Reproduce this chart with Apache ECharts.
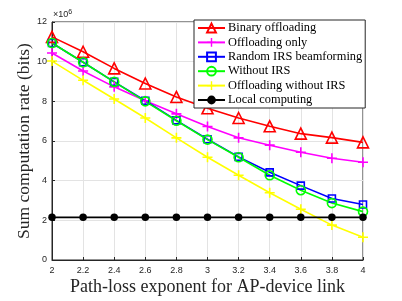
<!DOCTYPE html>
<html><head><meta charset="utf-8">
<script src="https://cdn.jsdelivr.net/npm/echarts@6/dist/echarts.min.js"></script>
<style>html,body{margin:0;padding:0;background:#fff}#c{width:402px;height:301px}</style>
</head><body><div id="c"></div>
<script>
const categories = ['2','2.2','2.4','2.6','2.8','3','3.2','3.4','3.6','3.8','4'];
const yTicks = [0,2,4,6,8,10,12];
const binaryOffloading = [11.25,10.5,9.66,8.9,8.22,7.65,7.16,6.74,6.37,6.17,5.93];
const offloadingOnly = [10.44,9.53,8.73,8.03,7.37,6.73,6.16,5.79,5.43,5.13,4.93];
const randomIRS = [10.94,9.97,8.98,8.03,7.04,6.09,5.2,4.42,3.75,3.1,2.8];
const withoutIRS = [10.94,9.97,8.98,8.0,7.02,6.07,5.18,4.27,3.52,2.87,2.44];
const offloadingWithoutIRS = [10.03,9.06,8.12,7.16,6.16,5.18,4.27,3.39,2.56,1.76,1.15];
const localComputing = [2.15,2.15,2.15,2.15,2.15,2.15,2.15,2.15,2.15,2.15,2.15];
const names = ['Binary offloading','Offloading only','Random IRS beamforming','Without IRS','Offloading without IRS','Local computing'];

const plus = 'path://M4.2,0h1.6v4.2h4.2v1.6h-4.2v4.2h-1.6v-4.2h-4.2v-1.6h4.2z';
function mk(name, data, color, symbol, size, hollow){
  return {
    name, type:'line', data, symbol, symbolSize:size, showSymbol:true,
    lineStyle:{color, width:1.6},
    itemStyle: hollow ? {color:'rgba(255,255,255,0)', borderColor:color, borderWidth:1.6}
                      : {color, borderWidth:0},
    emphasis:{disabled:true}, animation:false, z: 2
  };
}
const series = [
  mk(names[0], binaryOffloading, '#ff0000', 'triangle', 11, true),
  mk(names[1], offloadingOnly, '#ff00ff', plus, 10, false),
  mk(names[2], randomIRS, '#0000ff', 'rect', 7, true),
  mk(names[3], withoutIRS, '#00ff00', 'circle', 9, true),
  mk(names[4], offloadingWithoutIRS, '#ffff00', plus, 10, false),
  mk(names[5], localComputing, '#000000', 'circle', 7.5, false)
];
const chart = echarts.init(document.getElementById('c'), null, {renderer:'canvas'});
chart.setOption({
  animation:false,
  backgroundColor:'#fff',
  grid:{left:52, right:39, top:22, bottom:38, show:true, borderColor:'#262626', borderWidth:1, backgroundColor:'transparent'},
  xAxis:{type:'category', data:categories, boundaryGap:false,
    axisLine:{show:true, lineStyle:{color:'#262626', width:1}},
    axisTick:{show:true, inside:true, length:3, alignWithLabel:true, lineStyle:{color:'#262626'}},
    axisLabel:{color:'#262626', fontSize:9, fontFamily:'Liberation Sans', margin:6},
    splitLine:{show:true, lineStyle:{color:'#e3e3e3', width:1}},
    name:'Path-loss exponent for AP-device link', nameLocation:'middle', nameGap:18, nameMoveOverlap:false,
    nameTextStyle:{fontFamily:'Liberation Serif', fontSize:18, color:'#262626'}
  },
  yAxis:{type:'value', min:0, max:12, interval:2,
    axisLine:{show:true, lineStyle:{color:'#262626', width:1}},
    axisTick:{show:true, inside:true, length:3, lineStyle:{color:'#262626'}},
    axisLabel:{color:'#262626', fontSize:9, fontFamily:'Liberation Sans', margin:5,
      formatter: v => yTicks.includes(v) ? String(v) : ''},
    splitLine:{show:true, lineStyle:{color:'#e3e3e3', width:1}},
    name:'Sum computation rate (bits)', nameLocation:'middle', nameGap:19, nameRotate:90, nameMoveOverlap:false,
    nameTextStyle:{fontFamily:'Liberation Serif', fontSize:17.5, color:'#262626'}
  },
  legend:{show:true, orient:'vertical', left:194, top:20, data:names,
    backgroundColor:'#fff', borderColor:'#262626', borderWidth:1,
    padding:[2,3,2,3], itemGap:2.4, itemWidth:27, itemHeight:11,
    textStyle:{fontFamily:'Liberation Serif', fontSize:12.4, color:'#000', padding:[0,0,0,-2]},
    selectedMode:false},
  graphic:[{type:'text', left:53, top:9, style:{
    text:'{a|×10}{b|6}', rich:{a:{fontSize:9, fontFamily:'Liberation Sans', fill:'#262626'},
      b:{fontSize:7, fontFamily:'Liberation Sans', fill:'#262626', verticalAlign:'top', padding:[0,0,4,0]}}}}],
  series
});
</script></body></html>
